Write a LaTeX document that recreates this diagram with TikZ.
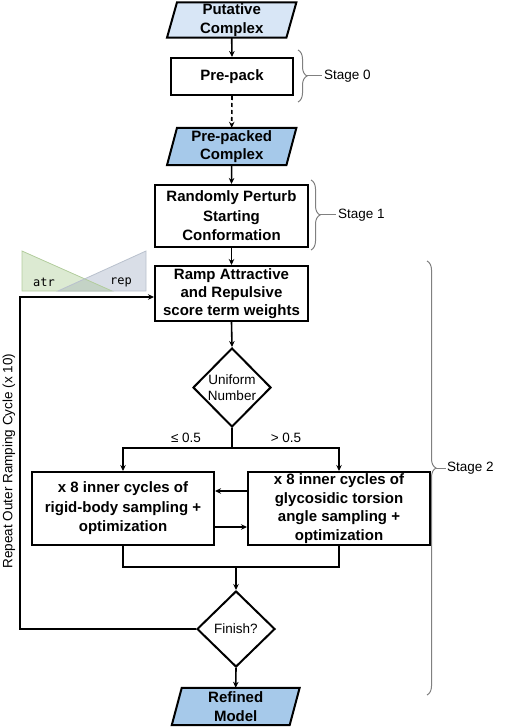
\documentclass[tikz,border=0pt]{standalone}
\usepackage{fontspec}
\setmainfont{Liberation Sans}
\setmonofont{DejaVu Sans Mono}
\usetikzlibrary{shapes.geometric,arrows.meta,decorations.pathreplacing,backgrounds}
\definecolor{lblue}{HTML}{D8E6F6}
\definecolor{mblue}{HTML}{A6C9EA}
\definecolor{trigreen}{HTML}{DCEAD2}
\definecolor{trigreenedge}{HTML}{B3CD9E}
\definecolor{trigrey}{HTML}{D9DEE7}
\definecolor{trigreyedge}{HTML}{B9C1CD}
\definecolor{trioverlap}{HTML}{C4D3C6}
\definecolor{bracegrey}{HTML}{808080}
\newcommand\iopath[2]{\draw[line width=2pt, fill=#2] ([xshift=-5pt]#1.south west) -- ([xshift=-5pt]#1.south east) -- ([xshift=5pt]#1.north east) -- ([xshift=5pt]#1.north west) -- cycle;}
\begin{document}
\begin{tikzpicture}[x=1pt,y=-1pt,
  boldtext/.style={font=\bfseries\fontsize{15}{19.5}\selectfont},
  plaintext/.style={font=\fontsize{13.5}{15.5}\selectfont},
  stepbox/.style={draw, line width=2pt, rectangle, align=center, boldtext, inner sep=0pt},
  iobox/.style={rectangle, align=center, font=\bfseries\fontsize{15}{18.5}\selectfont, inner sep=0pt},
  decide/.style={draw, line width=2pt, diamond, align=center, plaintext, inner sep=0pt, fill=white},
  conn/.style={line width=1.6pt},
  arr/.style={conn, -{Stealth[length=6pt,width=5.5pt]}},
  stagebrace/.style={draw=bracegrey, line width=1pt, decorate, decoration={brace, amplitude=9pt}},
  stagelabel/.style={plaintext, anchor=west, inner sep=0pt}
]
\useasboundingbox (0,0) rectangle (507,727);

% nodes
\node[iobox, minimum width=119pt, minimum height=35pt] (put) at (231.7,20) {Putative\\Complex};
\node[stepbox, minimum width=122pt, minimum height=37pt] (prepack) at (232,76.5) {Pre-pack};
\node[iobox, minimum width=119pt, minimum height=37pt] (prepacked) at (231.7,146.5) {Pre-packed\\Complex};
\node[stepbox, minimum width=153pt, minimum height=62pt] (perturb) at (231.5,216) {Randomly Perturb\\Starting\\Conformation};
\node[stepbox, minimum width=153pt, minimum height=55pt, font=\bfseries\fontsize{15}{18}\selectfont] (ramp) at (231.5,293.5) {Ramp Attractive\\and Repulsive\\score term weights};
\node[decide, minimum width=78pt, minimum height=79pt] (uni) at (232,387.5) {Uniform\\Number};
\node[stepbox, minimum width=182pt, minimum height=73pt] (left) at (123,508.5) {x 8 inner cycles of\\rigid-body sampling +\\optimization};
\node[stepbox, minimum width=182pt, minimum height=73pt, font=\bfseries\fontsize{15}{18.5}\selectfont] (right) at (339,508.5) {x 8 inner cycles of\\glycosidic torsion\\angle sampling +\\optimization};
\node[decide, minimum width=78pt, minimum height=76pt] (finish) at (236,629) {Finish?};
\node[iobox, minimum width=117.5pt, minimum height=37pt] (refined) at (235.7,706.5) {Refined\\Model};

\begin{scope}[on background layer]
  \iopath{put}{lblue}
  \iopath{prepacked}{mblue}
  \iopath{refined}{mblue}
\end{scope}

% labels
\node[plaintext, inner sep=0pt] (le) at (186,438) {≤ 0.5};
\node[plaintext, inner sep=0pt] (gt) at (286,438) {> 0.5};
\node[plaintext, inner sep=0pt, rotate=90] (repeat) at (9,461) {Repeat Outer Ramping Cycle (x 10)};

% connectors
\draw[arr] (put.south) -- (prepack.north);
\draw[arr, dash pattern=on 4pt off 3pt] (prepack.south) -- (prepacked.north);
\draw[arr] (prepacked.south) -- (perturb.north);
\draw[arr] (perturb.south) -- (ramp.north);
\draw[arr] (ramp.south) -- (uni.north);
\coordinate (split) at (232,448);
\draw[conn] (uni.south) -- (split);
\draw[arr] (split) -| (left.north);
\draw[arr] (split) -| (right.north);
\draw[arr] ([yshift=17.5pt]right.west) -- ([yshift=17.5pt]left.east);
\draw[arr] ([yshift=-18.5pt]left.east) -- ([yshift=-18.5pt]right.west);
\coordinate (merge) at (236,567);
\draw[conn] (left.south) |- (merge);
\draw[conn] (merge) -| (right.south);
\draw[arr] (merge) -- (finish.north);
\draw[arr] (finish.south) -- (refined.north);
\coordinate (lb) at (20,629);
\coordinate (lt) at (20,297);
\draw[arr] (finish.west) -- (lb) -- (lt) -- (ramp.west |- lt);

% ramp triangles
\fill[trigreen] (22,251) -- (22,291) -- (112,291) -- cycle;
\fill[trigrey] (146,251) -- (146,291) -- (58,291) -- cycle;
\fill[trioverlap] (58,291) -- (84.7,278.9) -- (112,291) -- cycle;
\draw[trigreenedge, line width=0.8pt] (22,251) -- (22,291) -- (112,291) -- cycle;
\draw[trigreyedge, line width=0.8pt] (146,251) -- (146,291) -- (58,291) -- cycle;
\node[font=\ttfamily\fontsize{12}{12}\selectfont, inner sep=0pt] (atr) at (44,282) {atr};
\node[font=\ttfamily\fontsize{12}{12}\selectfont, inner sep=0pt] (rep) at (121,282) {rep};

% stage braces
\draw[stagebrace] (298,50) -- (298,102);
\draw[bracegrey, line width=1pt] (307,76) -- (322,76);
\node[stagelabel] (s0) at (324,76) {Stage 0};
\draw[stagebrace] (311,180) -- (311,250);
\draw[bracegrey, line width=1pt] (320,215) -- (336,215);
\node[stagelabel] (s1) at (338,215) {Stage 1};
\draw[stagebrace, decoration={brace, amplitude=9pt, aspect=0.477}] (427,261) -- (427,695);
\draw[bracegrey, line width=1pt] (436,468) -- (446,468);
\node[stagelabel] (s2) at (447,468) {Stage 2};
\end{tikzpicture}
\end{document}
